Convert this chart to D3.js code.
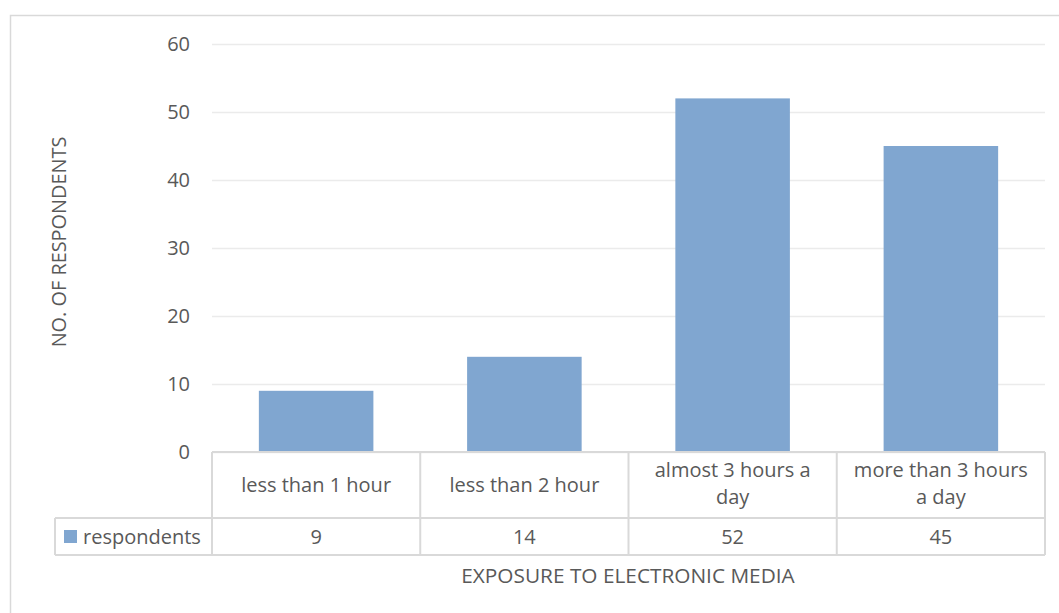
<!DOCTYPE html>
<html>
<head>
<meta charset="utf-8">
<script src="https://cdn.jsdelivr.net/npm/d3@7"></script>
<style>
  html, body { margin: 0; padding: 0; background: #fff; }
  svg text { font-family: "Open Sans", "Liberation Sans", sans-serif; fill: #595959; }
</style>
</head>
<body>
<svg id="chart" width="1059" height="613"></svg>
<script>
// Survey data: exposure to electronic media
const categories = [["less than 1 hour"], ["less than 2 hour"], ["almost 3 hours a", "day"], ["more than 3 hours", "a day"]];
const categoryKeys = ["less than 1 hour", "less than 2 hour", "almost 3 hours a day", "more than 3 hours a day"];
const respondents = [9, 14, 52, 45];
const seriesName = "respondents";
const yTicks = [0, 10, 20, 30, 40, 50, 60];

const svg = d3.select("#chart");
const barColor = "#80a6d0";
const gridColor = "#ebebeb";
const tableColor = "#d9d9d9";
const fs = 20;

// chart frame
svg.append("rect")
  .attr("x", 10.5).attr("y", 15.5)
  .attr("width", 1070).attr("height", 620)
  .attr("fill", "none").attr("stroke", tableColor).attr("stroke-width", 1.5);

const plot = { left: 212, right: 1045, top: 44, bottom: 452 };

const x = d3.scaleBand()
  .domain(categoryKeys)
  .range([plot.left, plot.right])
  .paddingInner(0.45).paddingOuter(0.225);

const xCell = d3.scaleBand()
  .domain(categoryKeys)
  .range([plot.left, plot.right]);

const y = d3.scaleLinear().domain([0, 60]).range([plot.bottom, plot.top]);

// gridlines + tick labels
const yAxis = d3.axisLeft(y).tickValues(yTicks).tickSize(-(plot.right - plot.left)).tickPadding(22);
const gy = svg.append("g").attr("transform", `translate(${plot.left},0)`).call(yAxis);
gy.select(".domain").remove();
gy.selectAll(".tick line").attr("stroke", gridColor).attr("stroke-width", 1.5);
gy.selectAll(".tick text").attr("font-size", fs).style("fill", "#595959")
  .attr("font-family", "Open Sans, sans-serif");

// bars
svg.append("g").selectAll("rect")
  .data(respondents)
  .join("rect")
  .attr("x", (d, i) => x(categoryKeys[i]))
  .attr("y", d => y(d))
  .attr("width", x.bandwidth())
  .attr("height", d => y(0) - y(d))
  .attr("fill", barColor);

// data table beneath the axis
const rowTop = plot.bottom, rowMid = 518, rowBot = 555, legendLeft = 55;
const tbl = svg.append("g").attr("fill", "none").attr("stroke", tableColor).attr("stroke-width", 2);
tbl.append("line").attr("x1", plot.left).attr("x2", plot.right).attr("y1", rowTop).attr("y2", rowTop);
tbl.append("line").attr("x1", legendLeft).attr("x2", plot.right).attr("y1", rowMid).attr("y2", rowMid);
tbl.append("line").attr("x1", legendLeft).attr("x2", plot.right).attr("y1", rowBot).attr("y2", rowBot);
tbl.append("line").attr("x1", legendLeft).attr("x2", legendLeft).attr("y1", rowMid).attr("y2", rowBot);
const edges = categoryKeys.map(k => xCell(k)).concat([plot.right]);
tbl.selectAll("line.v").data(edges).join("line").attr("class", "v")
  .attr("x1", d => d).attr("x2", d => d).attr("y1", rowTop).attr("y2", rowBot);

// category labels
const catG = svg.append("g");
categories.forEach((lines, i) => {
  const cx = xCell(categoryKeys[i]) + xCell.bandwidth() / 2;
  const n = lines.length;
  const t = catG.append("text").attr("text-anchor", "middle").attr("font-size", fs);
  lines.forEach((ln, j) => {
    const yy = n === 1 ? 492 : 477 + j * 27;
    t.append("tspan").attr("x", cx).attr("y", yy).text(ln);
  });
});

// value row
svg.append("g").selectAll("text")
  .data(respondents)
  .join("text")
  .attr("x", (d, i) => xCell(categoryKeys[i]) + xCell.bandwidth() / 2)
  .attr("y", 544)
  .attr("text-anchor", "middle")
  .attr("font-size", fs)
  .text(d => d);

// legend key
svg.append("rect").attr("x", 64).attr("y", 530).attr("width", 13).attr("height", 13).attr("fill", barColor);
svg.append("text").attr("x", 83).attr("y", 544).attr("font-size", fs).text(seriesName);

// axis titles
svg.append("text").attr("x", 628).attr("y", 583)
  .attr("text-anchor", "middle").attr("font-size", 20.8).text("EXPOSURE TO ELECTRONIC MEDIA");
svg.append("text")
  .attr("transform", `translate(66,${242}) rotate(-90)`)
  .attr("text-anchor", "middle").attr("font-size", 19.9).text("NO. OF RESPONDENTS");
</script>
</body>
</html>
